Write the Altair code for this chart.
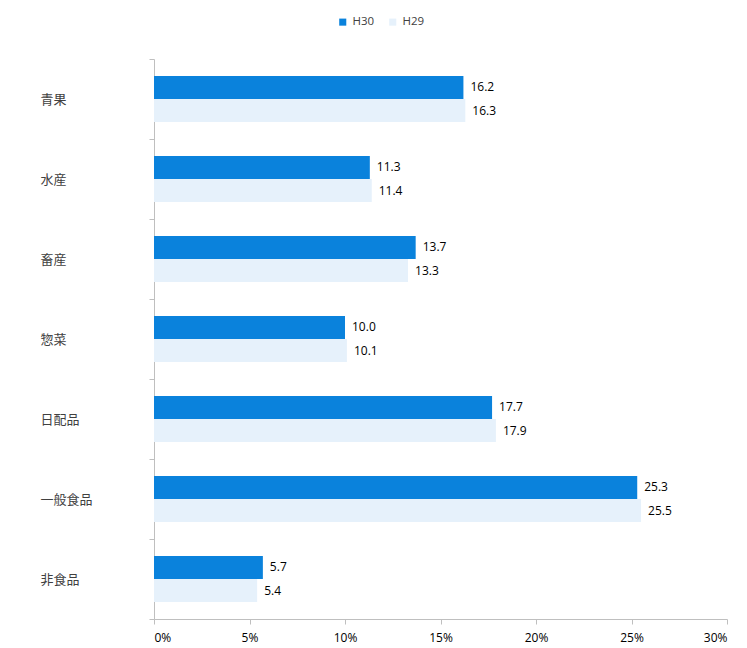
import altair as alt
import pandas as pd

categories = ["青果", "水産", "畜産", "惣菜", "日配品", "一般食品", "非食品"]
series = ["H30", "H29"]
h30 = [16.2, 11.3, 13.7, 10.0, 17.7, 25.3, 5.7]
h29 = [16.3, 11.4, 13.3, 10.1, 17.9, 25.5, 5.4]

rows = []
for c, a, b in zip(categories, h30, h29):
    rows.append({"cat": c, "series": "H30", "value": a})
    rows.append({"cat": c, "series": "H29", "value": b})
df = pd.DataFrame(rows)

colors = ["#0A82DC", "#E6F1FB"]

y_enc = alt.Y("cat:N", sort=categories,
              scale=alt.Scale(paddingInner=0, paddingOuter=0),
              axis=alt.Axis(title=None, labelAlign="left", labelPadding=109, tickSize=5,
                            tickBand="extent", labelFont="Noto Sans CJK JP", labelFontSize=13,
                            labelColor="#404040", domainColor="#BFBFBF", tickColor="#BFBFBF",
                            labelLimit=200))
yoff = alt.YOffset("series:N", sort=series,
                   scale=alt.Scale(paddingInner=0, paddingOuter=0.739))

bars = alt.Chart(df).mark_bar().encode(
    x=alt.X("value:Q", scale=alt.Scale(domain=[0, 30]),
            axis=alt.Axis(title=None, values=[0, 5, 10, 15, 20, 25, 30],
                          labelExpr="datum.value + '%'", grid=False, tickSize=5,
                          labelFont="Open Sans", labelFontSize=12, labelColor="#000000",
                          labelPadding=8, domainColor="#BFBFBF", tickColor="#BFBFBF")),
    y=y_enc,
    yOffset=yoff,
    color=alt.Color("series:N", sort=series,
                    scale=alt.Scale(domain=series, range=colors),
                    legend=alt.Legend(title=None, orient="none", direction="horizontal",
                                      legendX=183, legendY=-43, symbolType="square",
                                      symbolSize=50, labelFont="Open Sans", labelFontSize=11.5,
                                      labelColor="#404040", columnPadding=12,
                                      symbolStrokeWidth=0)),
)

labels = alt.Chart(df).mark_text(align="left", baseline="middle", dx=7,
                                 font="Open Sans", fontSize=12, color="#000000").encode(
    x="value:Q",
    y=alt.Y("cat:N", sort=categories),
    yOffset=alt.YOffset("series:N", sort=series),
    text=alt.Text("value:Q", format=".1f"),
)

chart = alt.layer(bars, labels).properties(
    width=573, height=560,
    autosize=alt.AutoSizeParams(type="none"),
    padding={"left": 146, "top": 51, "right": 10, "bottom": 30},
).configure_view(stroke=None).configure_axis(grid=False)

chart.save("out.html", embed_options={"renderer": "svg", "actions": False})
